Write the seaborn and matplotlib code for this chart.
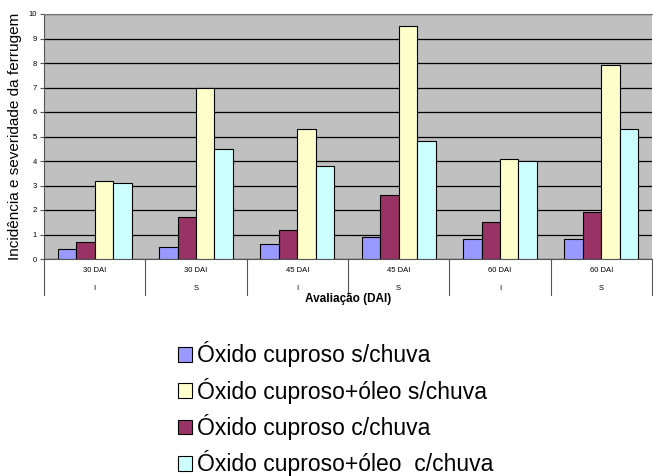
import numpy as np
import pandas as pd
import matplotlib
matplotlib.use("Agg")
import matplotlib.pyplot as plt
import matplotlib.transforms as mtransforms
import seaborn as sns

# Data
avaliacoes = ["30 DAI", "30 DAI", "45 DAI", "45 DAI", "60 DAI", "60 DAI"]
tipos = ["I", "S", "I", "S", "I", "S"]
tratamentos = ["Óxido cuproso s/chuva", "Óxido cuproso c/chuva",
               "Óxido cuproso+óleo s/chuva", "Óxido cuproso+óleo  c/chuva"]
cuproso_s_chuva = [0.4, 0.5, 0.6, 0.9, 0.8, 0.8]
cuproso_c_chuva = [0.7, 1.7, 1.2, 2.6, 1.5, 1.9]
oleo_s_chuva = [3.2, 7.0, 5.3, 9.5, 4.1, 7.9]
oleo_c_chuva = [3.1, 4.5, 3.8, 4.8, 4.0, 5.3]
cores = ["#9999FF", "#993366", "#FFFFCC", "#CCFFFF"]
legend_order = [0, 2, 1, 3]

plt.rcParams["font.family"] = ["Liberation Sans", "DejaVu Sans"]

grupos = [f"{a}\n{t}" for a, t in zip(avaliacoes, tipos)]
series = [cuproso_s_chuva, cuproso_c_chuva, oleo_s_chuva, oleo_c_chuva]
df = pd.DataFrame({
    "grupo": grupos * 4,
    "trat": [t for t in tratamentos for _ in grupos],
    "valor": [v for s in series for v in s],
})

fig = plt.figure(figsize=(6.53, 4.76), dpi=100)
ax = fig.add_axes([44 / 653, 1 - 259 / 476, 608 / 653, 245 / 476])
ax.set_facecolor("#C0C0C0")

sns.barplot(data=df, x="grupo", y="valor", hue="trat", hue_order=tratamentos,
            palette=cores, width=0.73, edgecolor="black", linewidth=0.8,
            saturation=1, ax=ax, legend=True, zorder=3)

ax.set_ylim(0, 10)
ax.set_xlim(-0.5, 5.5)
ax.set_yticks(range(0, 11))
ax.yaxis.grid(True, color="black", linewidth=0.9, zorder=0)
ax.set_axisbelow(True)
ax.tick_params(axis="y", labelsize=5.5, length=3, width=0.8, color="#555555", pad=2)
ax.tick_params(axis="x", length=0, labelbottom=False)
ax.spines["right"].set_visible(False)
ax.spines["left"].set_color("#555555")
ax.spines["bottom"].set_color("#555555")
ax.spines["top"].set_color("#777777")
ax.set_xlabel("")
ax.set_ylabel("Incidência e severidade da ferrugem", fontsize=11, labelpad=5)

# two-level category labels and separators
trans = mtransforms.blended_transform_factory(ax.transData, ax.transAxes)
for i, (a, t) in enumerate(zip(avaliacoes, tipos)):
    ax.text(i, -0.045, a, transform=trans, ha="center", va="center", fontsize=5.5)
    ax.text(i, -0.122, t, transform=trans, ha="center", va="center", fontsize=5.5)
for b in np.arange(-0.5, 6.0, 1.0):
    ax.plot([b, b], [0, -0.147], transform=trans, color="#555555",
            linewidth=0.8, clip_on=False)
fig.text(348 / 653, 1 - 299 / 476, "Avaliação (DAI)", ha="center", va="center",
         fontsize=8.5, fontweight="bold")

handles, labels = ax.get_legend_handles_labels()
ax.get_legend().remove()
fig.legend([handles[i] for i in legend_order], [labels[i] for i in legend_order],
           loc="upper left", bbox_to_anchor=(167 / 653, 1 - 330 / 476),
           frameon=False, fontsize=16.5, handlelength=0.6, handleheight=0.6,
           handletextpad=0.2, labelspacing=0.45, borderpad=0)

fig.savefig("out.png", dpi=100)
